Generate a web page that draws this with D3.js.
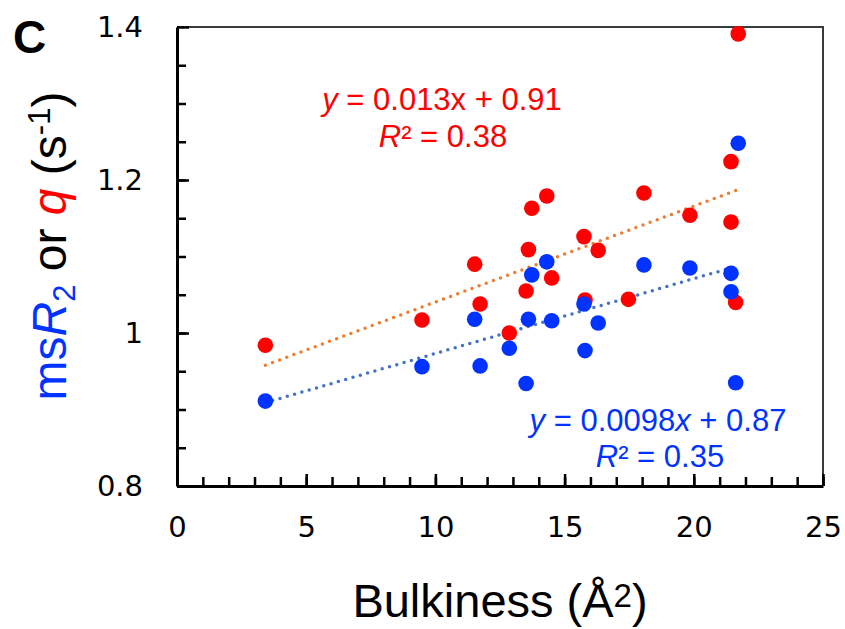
<!DOCTYPE html>
<meta charset="utf-8">
<style>
    body { margin: 0; background: #fff; }
    .tick text { font-family: "DejaVu Sans", sans-serif; font-size: 29px; fill: #000; }
</style>
<title>Bulkiness scatter</title>

<body>
    <script src="https://cdn.jsdelivr.net/npm/d3@7"></script>
    <script>
        // red series: q vs bulkiness
        const bulkRed = [3.42, 9.48, 11.52, 11.73, 12.86, 13.51, 13.60, 13.73, 14.31, 14.50,
                         15.75, 15.79, 16.30, 17.47, 18.07, 19.85, 21.44, 21.44, 21.62, 21.72];
        const qValues = [0.984, 1.017, 1.090, 1.038, 1.000, 1.055, 1.109, 1.163, 1.179, 1.072,
                         1.126, 1.043, 1.108, 1.044, 1.183, 1.154, 1.224, 1.145, 1.040, 1.391];

        // blue series: msR2 vs bulkiness
        const bulkBlue = [3.42, 9.48, 11.52, 11.73, 12.86, 13.51, 13.60, 13.73, 14.31, 14.50,
                          15.75, 15.79, 16.30, 18.07, 19.85, 21.44, 21.44, 21.62, 21.72];
        const msR2Values = [0.911, 0.956, 1.018, 0.957, 0.980, 0.934, 1.018, 1.076, 1.093, 1.016,
                            1.038, 0.977, 1.013, 1.089, 1.085, 1.078, 1.054, 0.935, 1.248];

        const xTicks = [0, 5, 10, 15, 20, 25];
        const yTicks = [0.8, 1, 1.2, 1.4];

        const width = 845, height = 629;
        const margin = {top: 27, right: 22, bottom: 143, left: 177};

        const red = "#ff0000", blue = "#0033ff";
        const redTrend = "#ed7d31", blueTrend = "#4472c4";

        let svg = d3.select('body').append('svg')
            .attr('width', width)
            .attr('height', height);

        let x = d3.scaleLinear().domain([0, 25]).range([margin.left, width - margin.right]);
        let y = d3.scaleLinear().domain([0.8, 1.4]).range([height - margin.bottom, margin.top]);

        // box top/right
        svg.append('path')
            .attr('d', `M${x(0)},${y(1.4)}H${x(25)}V${y(0.8)}`)
            .attr('fill', 'none')
            .attr('stroke', '#3a3a3a')
            .attr('stroke-width', 2);

        // minor ticks
        svg.append('g')
            .attr('transform', `translate(${x(0)},0)`)
            .call(d3.axisLeft(y).tickValues(d3.range(16, 28).map(d => d * 0.05)).tickSize(-9).tickFormat(''))
            .call(g => g.select('.domain').remove())
            .call(g => g.selectAll('line').attr('stroke-width', 2.5));
        svg.append('g')
            .attr('transform', `translate(0,${y(0.8)})`)
            .call(d3.axisBottom(x).tickValues(d3.range(0, 26)).tickSize(-9).tickFormat(''))
            .call(g => g.select('.domain').remove())
            .call(g => g.selectAll('line').attr('stroke-width', 2.5));

        // major axes
        svg.append('g')
            .attr('transform', `translate(${x(0)},0)`)
            .call(d3.axisLeft(y).tickValues(yTicks).tickSize(-12).tickSizeOuter(0).tickPadding(34).tickFormat(d3.format('~g')))
            .call(g => g.select('.domain').attr('stroke-width', 3))
            .call(g => g.selectAll('line').attr('stroke-width', 2.5));
        svg.append('g')
            .attr('transform', `translate(0,${y(0.8)})`)
            .call(d3.axisBottom(x).tickValues(xTicks).tickSize(-12).tickSizeOuter(0).tickPadding(30))
            .call(g => g.select('.domain').attr('stroke-width', 3))
            .call(g => g.selectAll('line').attr('stroke-width', 2.5));

        // least squares trend, drawn over data range
        function trend(xs, ys) {
            let mx = d3.mean(xs), my = d3.mean(ys);
            let sxy = d3.sum(xs, (v, i) => (v - mx) * (ys[i] - my));
            let sxx = d3.sum(xs, v => (v - mx) * (v - mx));
            let b = sxy / sxx, a = my - b * mx;
            let ext = d3.extent(xs);
            return ext.map(v => [v, a + b * v]);
        }

        let line = d3.line().x(d => x(d[0])).y(d => y(d[1]));

        svg.append('path')
            .attr('d', line(trend(bulkRed, qValues)))
            .attr('stroke', redTrend)
            .attr('stroke-width', 3.5)
            .attr('stroke-linecap', 'round')
            .attr('stroke-dasharray', '0,7.6')
            .attr('fill', 'none');

        svg.append('path')
            .attr('d', line(trend(bulkBlue, msR2Values)))
            .attr('stroke', blueTrend)
            .attr('stroke-width', 3.5)
            .attr('stroke-linecap', 'round')
            .attr('stroke-dasharray', '0,7.6')
            .attr('fill', 'none');

        // points, red under blue
        svg.append('g').selectAll('circle')
            .data(bulkRed.map((v, i) => [v, qValues[i]]))
            .enter().append('circle')
            .attr('cx', d => x(d[0]))
            .attr('cy', d => y(d[1]))
            .attr('r', 7.8)
            .attr('fill', red);

        svg.append('g').selectAll('circle')
            .data(bulkBlue.map((v, i) => [v, msR2Values[i]]))
            .enter().append('circle')
            .attr('cx', d => x(d[0]))
            .attr('cy', d => y(d[1]))
            .attr('r', 7.8)
            .attr('fill', blue);

        // equation labels
        const eqFont = 'Liberation Sans, Arial, sans-serif';

        let eqRed = svg.append('text')
            .attr('font-family', eqFont).attr('font-size', 31).attr('fill', red)
            .attr('text-anchor', 'middle');
        let r1 = eqRed.append('tspan').attr('x', 442).attr('y', 110);
        r1.append('tspan').attr('font-style', 'italic').text('y');
        r1.append('tspan').text(' = 0.013x + 0.91');
        let r2 = eqRed.append('tspan').attr('x', 443).attr('y', 147);
        r2.append('tspan').attr('font-style', 'italic').text('R');
        r2.append('tspan').text('² = 0.38');

        let eqBlue = svg.append('text')
            .attr('font-family', eqFont).attr('font-size', 31).attr('fill', blue)
            .attr('text-anchor', 'middle');
        let b1 = eqBlue.append('tspan').attr('x', 658).attr('y', 431);
        b1.append('tspan').attr('font-style', 'italic').text('y');
        b1.append('tspan').text(' = 0.0098');
        b1.append('tspan').attr('font-style', 'italic').text('x');
        b1.append('tspan').text(' + 0.87');
        let b2 = eqBlue.append('tspan').attr('x', 660).attr('y', 467);
        b2.append('tspan').attr('font-style', 'italic').text('R');
        b2.append('tspan').text('² = 0.35');

        // panel letter
        svg.append('text')
            .attr('x', 13).attr('y', 53)
            .attr('font-family', 'Liberation Sans, Arial, sans-serif')
            .attr('font-weight', 'bold').attr('font-size', 46)
            .text('C');

        // x title
        let xt = svg.append('text')
            .attr('x', 500).attr('y', 617)
            .attr('text-anchor', 'middle')
            .attr('font-family', 'Liberation Sans, Arial, sans-serif')
            .attr('font-size', 47);
        xt.append('tspan').text('Bulkiness (Å');
        xt.append('tspan').attr('font-size', 33).attr('dy', -10).text('2');
        xt.append('tspan').attr('dy', 10).text(')');

        // y title
        let yt = svg.append('text')
            .attr('transform', 'translate(66,246) rotate(-90)')
            .attr('text-anchor', 'middle')
            .attr('font-family', 'Liberation Sans, Arial, sans-serif')
            .attr('font-size', 48);
        yt.append('tspan').attr('fill', blue).text('ms');
        yt.append('tspan').attr('fill', blue).attr('font-style', 'italic').text('R');
        yt.append('tspan').attr('fill', blue).attr('font-size', 31).attr('dy', 9).text('2');
        yt.append('tspan').attr('dy', -9).text(' or ');
        yt.append('tspan').attr('fill', red).attr('font-style', 'italic').text('q');
        yt.append('tspan').text(' (s');
        yt.append('tspan').attr('font-size', 31).attr('dy', -16).text('-1');
        yt.append('tspan').attr('dy', 16).text(')');
    </script>
</body>
